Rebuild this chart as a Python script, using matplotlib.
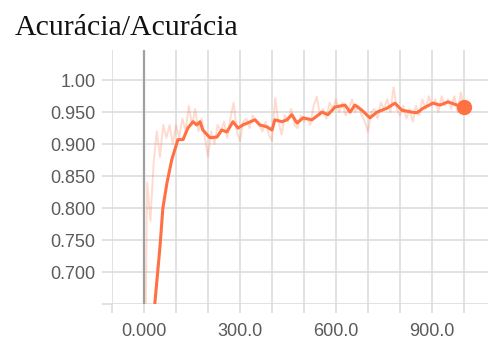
import matplotlib
matplotlib.use("Agg")
import matplotlib.pyplot as plt

# raw accuracy, logged every 10 steps
raw_steps = list(range(0, 1001, 10))
raw_acc = [
    0.40, 0.84, 0.78, 0.87, 0.92, 0.88, 0.93, 0.91, 0.93, 0.90,
    0.93, 0.91, 0.94, 0.92, 0.96, 0.93, 0.955, 0.92, 0.94, 0.91,
    0.88, 0.92, 0.90, 0.93, 0.92, 0.935, 0.91, 0.94, 0.965, 0.92,
    0.905, 0.935, 0.94, 0.925, 0.945, 0.935, 0.93, 0.92, 0.935, 0.915,
    0.905, 0.972, 0.935, 0.915, 0.945, 0.935, 0.955, 0.93, 0.925, 0.945,
    0.935, 0.94, 0.93, 0.96, 0.974, 0.945, 0.955, 0.94, 0.965, 0.955,
    0.97, 0.95, 0.965, 0.945, 0.955, 0.97, 0.95, 0.96, 0.945, 0.935,
    0.919, 0.95, 0.955, 0.94, 0.965, 0.955, 0.97, 0.95, 0.989, 0.955,
    0.945, 0.96, 0.94, 0.955, 0.935, 0.96, 0.945, 0.97, 0.955, 0.975,
    0.96, 0.97, 0.95, 0.975, 0.96, 0.97, 0.955, 0.975, 0.95, 0.981,
    0.955,
]

# smoothed accuracy
smooth_steps = [0, 20, 34, 41, 50, 59, 72, 87, 106, 122, 137, 153, 165, 175,
                184, 206, 228, 243, 259, 278, 294, 309, 347, 362, 384, 400,
                409, 431, 447, 462, 478, 497, 525, 556, 575, 597, 628, 644,
                659, 681, 706, 728, 759, 784, 806, 837, 853, 872, 903, 925,
                950, 978, 1000]
smooth_acc = [0.30, 0.50, 0.652, 0.69, 0.74, 0.80, 0.84, 0.876, 0.907, 0.907,
              0.925, 0.935, 0.930, 0.935, 0.922, 0.910, 0.911, 0.922, 0.919,
              0.935, 0.925, 0.930, 0.938, 0.930, 0.927, 0.922, 0.938, 0.935,
              0.938, 0.946, 0.933, 0.941, 0.938, 0.950, 0.946, 0.958, 0.961,
              0.950, 0.961, 0.953, 0.941, 0.950, 0.956, 0.964, 0.953, 0.950,
              0.949, 0.956, 0.964, 0.961, 0.966, 0.961, 0.958]

xtick_pos = [0, 300, 600, 900]
xtick_labels = ["0.000", "300.0", "600.0", "900.0"]
ytick_pos = [0.65, 0.70, 0.75, 0.80, 0.85, 0.90, 0.95, 1.00]
ytick_labels = ["", "0.700", "0.750", "0.800", "0.850", "0.900", "0.950", "1.00"]

orange = "#ff7043"
grid_c = "#dadada"

fig = plt.figure(figsize=(4.88, 3.43), dpi=100)
ax = fig.add_axes([0.2295, 0.1137, 0.7705, 0.7403])

ax.plot(raw_steps, raw_acc, color=orange, lw=1.4, alpha=0.25, zorder=3)
ax.plot(smooth_steps, smooth_acc, color=orange, lw=2.2, zorder=4)
ax.plot(smooth_steps[-1], smooth_acc[-1], "o", color=orange, ms=10, zorder=5)
ax.axvline(0, color="#a0a0a0", lw=1.6, zorder=2)

ax.set_xlim(-100, 1075)
ax.set_ylim(0.65, 1.047)

ax.set_xticks(range(-100, 1001, 100))
ax.set_xticklabels([xtick_labels[xtick_pos.index(s)] if s in xtick_pos else ""
                    for s in range(-100, 1001, 100)])
ax.set_yticks(ytick_pos)
ax.set_yticklabels(ytick_labels)

ax.grid(True, color=grid_c, lw=1.1, zorder=1)
for s in ax.spines.values():
    s.set_visible(False)
ax.tick_params(axis="x", length=6.5, width=1.1, color=grid_c, pad=7,
               labelsize=13, labelcolor="#5a5a5a")
ax.tick_params(axis="y", length=7, width=1.1, color=grid_c, pad=5,
               labelsize=13, labelcolor="#5a5a5a")
for lab in ax.get_xticklabels() + ax.get_yticklabels():
    lab.set_family("Liberation Sans")

fig.text(0.031, 0.898, "Acurácia/Acurácia", family="Liberation Serif",
         fontsize=21.5, color="#111111", va="baseline", ha="left")

fig.savefig("out.png", dpi=100)
